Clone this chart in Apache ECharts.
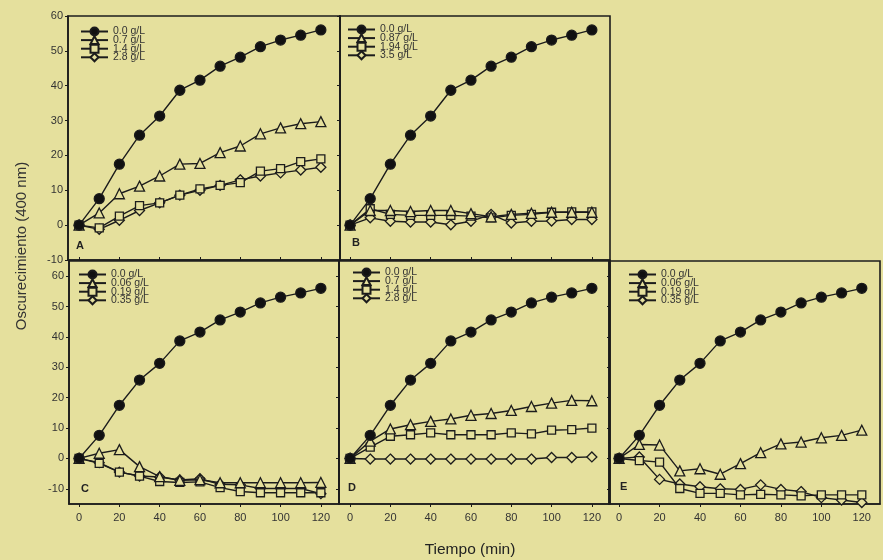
<!DOCTYPE html>
<html>
<head>
<meta charset="utf-8">
<script src="https://cdn.jsdelivr.net/npm/echarts@6/dist/echarts.min.js"></script>
<style>
html,body{margin:0;padding:0;background:#E5E09D;}
#chart{width:883px;height:560px;}
</style>
</head>
<body>
<div id="chart"></div>
<script>
// ---- Data ----
const time = [0,10,20,30,40,50,60,70,80,90,100,110,120];
const xTicks = [0,20,40,60,80,100,120];
const yTicks = [-10,0,10,20,30,40,50,60];

const control = [0,7.6,17.5,25.8,31.3,38.7,41.6,45.6,48.2,51.2,53.1,54.5,56.0];

const labelsA = ['0.0 g/L','0.7 g/L','1.4 g/L','2.8 g/L'];
const A_2 = [0,3.5,9.0,11.2,14.1,17.5,17.7,20.8,22.7,26.2,27.9,29.1,29.7];
const A_3 = [0,-0.8,2.6,5.6,6.4,8.6,10.4,11.4,12.2,15.5,16.2,18.2,19.0];
const A_4 = [0,-1.2,1.4,4.2,6.4,8.6,10.0,11.4,13.0,14.1,15.0,15.8,16.6];

const labelsB = ['0.0 g/L','0.87 g/L','1.94 g/L','3.5 g/L'];
const B_2 = [0,4.2,4.2,3.9,4.2,4.2,3.3,2.4,3.1,3.4,3.7,3.7,3.7];
const B_3 = [0,4.7,3.1,2.8,2.8,2.8,2.6,2.1,2.8,3.1,3.7,3.8,3.8];
const B_4 = [0,2.1,1.1,0.9,0.9,0.1,1.1,3.1,0.6,1.1,1.2,1.6,1.6];

const labelsC = ['0.0 g/L','0.06 g/L','0.19 g/L','0.35 g/L'];
const C_2 = [0,1.7,2.9,-2.7,-6.0,-7.2,-7.0,-8.0,-8.0,-8.0,-8.0,-8.0,-7.9];
const C_3 = [0,-1.6,-4.5,-5.8,-7.6,-7.9,-7.7,-9.6,-10.9,-11.3,-11.3,-11.3,-11.3];
const C_4 = [0,-1.4,-4.5,-5.8,-6.1,-7.1,-6.7,-8.5,-8.7,-9.9,-9.9,-9.9,-11.6];

const labelsD = ['0.0 g/L','0.7 g/L','1.4 g/L','2.8 g/L'];
const D_2 = [0,5.7,9.7,11.1,12.2,13.0,14.2,14.8,15.8,17.1,18.2,19.1,19.0];
const D_3 = [0,3.7,7.3,7.8,8.4,7.8,7.8,7.8,8.4,8.1,9.3,9.5,10.0];
const D_4 = [0,-0.2,-0.2,-0.2,-0.2,-0.2,-0.2,-0.2,-0.2,-0.2,0.3,0.3,0.5];

const labelsE = ['0.0 g/L','0.06 g/L','0.19 g/L','0.35 g/L'];
const E_2 = [0,4.6,4.4,-4.1,-3.4,-5.2,-1.7,1.9,4.8,5.4,6.8,7.6,9.3];
const E_3 = [0,-0.7,-1.2,-9.9,-11.5,-11.5,-12.0,-11.8,-12.0,-12.3,-12.0,-12.0,-12.0];
const E_4 = [0,0.5,-6.9,-8.4,-9.3,-10.0,-10.2,-8.7,-10.2,-10.9,-12.9,-13.7,-14.5];

const panelLetters = ['A','B','C','D','E'];

// ---- Styling ----
const BG = '#E5E09D';
const INK = '#1c1c1c';
const FONT = 'Liberation Sans, Arial, sans-serif';

const panels = [
  {labels: labelsA, data: [control, A_2, A_3, A_4]},
  {labels: labelsB, data: [control, B_2, B_3, B_4]},
  {labels: labelsC, data: [control, C_2, C_3, C_4]},
  {labels: labelsD, data: [control, D_2, D_3, D_4]},
  {labels: labelsE, data: [control, E_2, E_3, E_4]}
];

const grids = [
  {left: 68,  top: 16,  width: 272, height: 244},
  {left: 340, top: 16,  width: 270, height: 244},
  {left: 69,  top: 261, width: 270, height: 243},
  {left: 339, top: 261, width: 271, height: 243},
  {left: 609, top: 261, width: 271, height: 243}
];
const xRanges = [[-5.5,129.5],[-5,129],[-5,129],[-5.5,129],[-5,129]];
const legendPos = [[80,26],[347,24],[78,269],[352,267],[628,269]];
const letterPos = [[81,246],[357,243],[86,489],[353,488],[625,487]];

const symbols = ['circle','triangle','rect','diamond'];
const symSizes = [10,10,8,10];

const gridOpts = grids.map(g => Object.assign({show: true, borderColor: INK, borderWidth: 1.6, backgroundColor: 'transparent'}, g));

const xAxes = grids.map((g, i) => {
  const top = i < 2;
  return {
    type: 'value', gridIndex: i, min: xRanges[i][0], max: xRanges[i][1],
    splitLine: {show: false},
    axisLine: {show: true, onZero: false, lineStyle: {color: INK, width: 1.6}},
    axisTick: {show: true, inside: top, length: 3, customValues: xTicks, lineStyle: {color: INK, width: 1}},
    axisLabel: {show: !top, customValues: xTicks, margin: 8, fontSize: 11, color: '#333', fontFamily: FONT}
  };
});

const yAxes = [];
grids.forEach((g, i) => {
  const top = i < 2;
  const labeled = (i === 0 || i === 2);
  yAxes.push({
    type: 'value', gridIndex: i, min: top ? -10 : -15, max: top ? 60 : 65,
    splitLine: {show: false},
    axisLine: {show: true, onZero: false, lineStyle: {color: INK, width: 1.6}},
    axisTick: {show: labeled, length: 3, customValues: yTicks, lineStyle: {color: INK, width: 1}},
    axisLabel: {show: labeled, customValues: yTicks, margin: 5, fontSize: 11, color: '#333', fontFamily: FONT}
  });
});
[0,2,3].forEach(i => {
  const top = i < 2;
  yAxes.push({
    type: 'value', gridIndex: i, position: 'right', min: top ? -10 : -15, max: top ? 60 : 65,
    splitLine: {show: false},
    axisLine: {show: true, onZero: false, lineStyle: {color: INK, width: 1.6}},
    axisTick: {show: true, inside: true, length: 3, customValues: yTicks, lineStyle: {color: INK, width: 1}},
    axisLabel: {show: false}
  });
});

const series = [];
panels.forEach((p, i) => {
  p.data.forEach((vals, k) => {
    series.push({
      type: 'line', name: p.labels[k], xAxisIndex: i, yAxisIndex: i,
      data: time.map((t, j) => [t, vals[j]]),
      symbol: symbols[k], symbolSize: symSizes[k],
      lineStyle: {color: INK, width: 1.4},
      itemStyle: {color: k === 0 ? '#111' : BG, borderColor: INK, borderWidth: 1.3},
      z: 10 - k
    });
  });
});

const legends = panels.map((p, i) => ({
  orient: 'vertical', left: legendPos[i][0], top: legendPos[i][1], padding: 0,
  itemWidth: 27, itemHeight: 10, itemGap: -2.4,
  data: p.labels,
  selectedMode: false,
  textStyle: {fontSize: 10.5, lineHeight: 10, color: '#333', fontFamily: FONT}
}));

const graphics = panelLetters.map((L, i) => ({
  type: 'text', left: letterPos[i][0] - 5, top: letterPos[i][1] - 6,
  style: {text: L, font: 'bold 11px ' + FONT, fill: '#222'}
}));
graphics.push({
  type: 'text', x: 22, y: 246, rotation: Math.PI / 2,
  style: {text: 'Oscurecimiento (400 nm)', font: '15px ' + FONT, fill: '#333', align: 'center', verticalAlign: 'middle'}
});
graphics.push({
  type: 'text', x: 470, y: 550,
  style: {text: 'Tiempo (min)', font: '15.5px ' + FONT, fill: '#222', align: 'center', verticalAlign: 'middle'}
});

const chart = echarts.init(document.getElementById('chart'));
chart.setOption({
  backgroundColor: BG,
  animation: false,
  grid: gridOpts,
  xAxis: xAxes,
  yAxis: yAxes,
  legend: legends,
  series: series,
  graphic: graphics
});
</script>
</body>
</html>
